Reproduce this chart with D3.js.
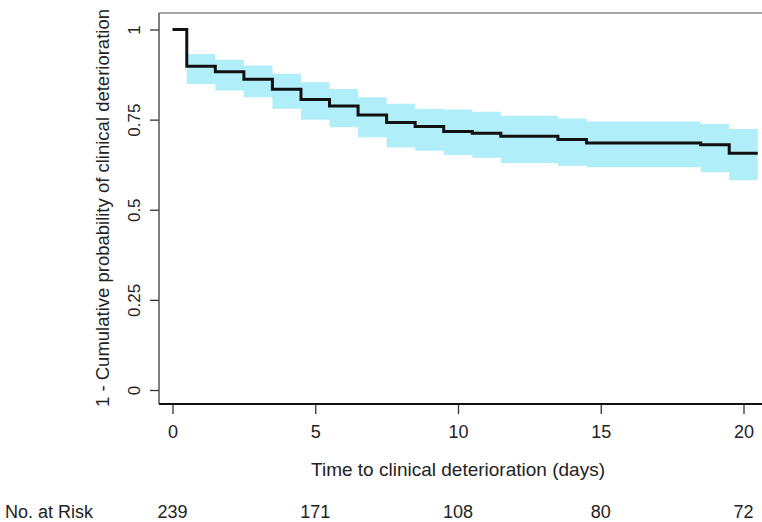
<!DOCTYPE html>
<html>
<head>
<script src="https://cdn.jsdelivr.net/npm/d3@7"></script>
<style>
  body { margin: 0; background: #fff; }
  text { font-family: "Liberation Sans", Arial, sans-serif; fill: #222; }
</style>
</head>
<body>
<script>
var w = 762, h = 522;

// Kaplan-Meier step points (time in days)
var times = [0, 0.5, 1.5, 2.5, 3.5, 4.5, 5.5, 6.5, 7.5, 8.5, 9.5, 10.5, 11.5, 13.5, 14.5, 18.5, 19.5, 20.5];
var surv  = [1, 0.898, 0.883, 0.862, 0.834, 0.806, 0.788, 0.763, 0.742, 0.731, 0.717, 0.712, 0.704, 0.695, 0.685, 0.680, 0.657, 0.657];
var upper = [1, 0.932, 0.916, 0.900, 0.877, 0.854, 0.835, 0.812, 0.794, 0.780, 0.778, 0.772, 0.761, 0.753, 0.745, 0.738, 0.724, 0.724];
var lower = [1, 0.849, 0.831, 0.812, 0.780, 0.750, 0.729, 0.701, 0.673, 0.664, 0.652, 0.644, 0.630, 0.622, 0.618, 0.604, 0.582, 0.582];

var xTicks = [0, 5, 10, 15, 20];
var yTicks = [0, 0.25, 0.5, 0.75, 1];
var atRisk = [239, 171, 108, 80, 72];

var frame = { left: 159, top: 13, bottom: 404, right: 762 };

var x = d3.scaleLinear().domain([0, 20]).range([172.5, 743.5]);
var y = d3.scaleLinear().domain([0, 1]).range([390, 29.5]);

var svg = d3.select("body").append("svg")
  .attr("width", w)
  .attr("height", h);

var data = times.map(function (t, i) {
  return { t: t, s: surv[i], lo: lower[i], hi: upper[i] };
});

// confidence band (starts at the first drop)
var area = d3.area()
  .curve(d3.curveStepAfter)
  .x(function (d) { return x(d.t); })
  .y0(function (d) { return y(d.lo); })
  .y1(function (d) { return y(d.hi); });

svg.append("path")
  .datum(data.slice(1))
  .attr("d", area)
  .attr("fill", "#b0eefa");

var line = d3.line()
  .curve(d3.curveStepAfter)
  .x(function (d) { return x(d.t); })
  .y(function (d) { return y(d.s); });

svg.append("path")
  .datum(data)
  .attr("d", line)
  .attr("fill", "none")
  .attr("stroke", "#111")
  .attr("stroke-width", 3);

// frame
svg.append("line")
  .attr("x1", frame.left).attr("x2", frame.right)
  .attr("y1", frame.top).attr("y2", frame.top)
  .attr("stroke", "#888").attr("stroke-width", 1.5);

// y axis
var yAxis = d3.axisLeft(y)
  .tickValues(yTicks)
  .tickFormat(d3.format(""))
  .tickSize(9)
  .tickSizeOuter(0);

var gy = svg.append("g")
  .attr("transform", "translate(" + frame.left + ",0)")
  .call(yAxis);
gy.select(".domain").remove();
gy.selectAll(".tick line").attr("stroke", "#333").attr("stroke-width", 1.3);
gy.selectAll(".tick text")
  .attr("font-size", 17)
  .attr("fill", "#222")
  .attr("transform", "rotate(-90)")
  .attr("x", 0)
  .attr("y", -25)
  .attr("dy", "0.35em")
  .attr("text-anchor", "middle");

svg.append("line")
  .attr("x1", frame.left).attr("x2", frame.left)
  .attr("y1", frame.top).attr("y2", frame.bottom)
  .attr("stroke", "#555").attr("stroke-width", 1.5);

// x axis
var xAxis = d3.axisBottom(x)
  .tickValues(xTicks)
  .tickSize(10)
  .tickSizeOuter(0);

var gx = svg.append("g")
  .attr("transform", "translate(0," + frame.bottom + ")")
  .call(xAxis);
gx.select(".domain").remove();
gx.selectAll(".tick line").attr("stroke", "#333").attr("stroke-width", 1.3);
gx.selectAll(".tick text")
  .attr("font-size", 18)
  .attr("fill", "#222")
  .attr("y", 28)
  .attr("dy", "0.35em");

svg.append("line")
  .attr("x1", frame.left).attr("x2", frame.right)
  .attr("y1", frame.bottom).attr("y2", frame.bottom)
  .attr("stroke", "#111").attr("stroke-width", 2.2);

// axis titles
svg.append("text")
  .attr("x", 458)
  .attr("y", 469)
  .attr("dy", "0.35em")
  .attr("text-anchor", "middle")
  .attr("font-size", 19)
  .text("Time to clinical deterioration (days)");

svg.append("text")
  .attr("transform", "translate(103," + 208 + ") rotate(-90)")
  .attr("dy", "0.35em")
  .attr("text-anchor", "middle")
  .attr("font-size", 18.5)
  .text("1 - Cumulative probability of clinical deterioration");

// numbers at risk
svg.append("text")
  .attr("x", 5)
  .attr("y", 512)
  .attr("dy", "0.35em")
  .attr("font-size", 18)
  .text("No. at Risk");

svg.selectAll(".risk")
  .data(atRisk)
  .enter()
  .append("text")
  .attr("class", "risk")
  .attr("x", function (d, i) { return x(xTicks[i]); })
  .attr("y", 512)
  .attr("dy", "0.35em")
  .attr("text-anchor", "middle")
  .attr("font-size", 18)
  .text(function (d) { return d; });
</script>
</body>
</html>
